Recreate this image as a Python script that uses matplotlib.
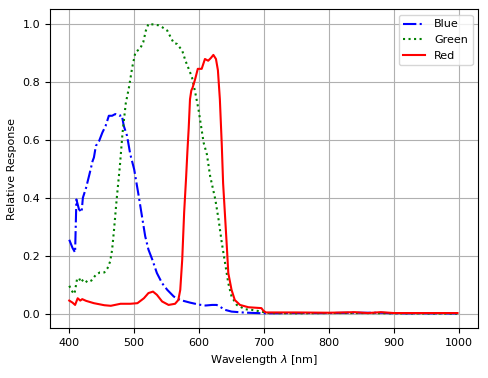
import matplotlib
matplotlib.use("Agg")
import matplotlib.pyplot as plt

blue_wl = [400, 405, 409, 411, 415, 419, 421, 426, 431, 436, 438, 441, 446, 451, 456,
           461, 466, 471, 477, 481, 484, 489, 494, 500, 507, 512, 517, 522, 528, 535,
           543, 551, 561, 571, 586, 600, 610, 620, 627, 632, 640, 650, 670, 700, 750,
           800, 840, 880, 900, 950, 998]
blue_val = [0.255, 0.227, 0.211, 0.394, 0.36, 0.35, 0.40, 0.435, 0.48, 0.527, 0.539,
            0.579, 0.596, 0.625, 0.648, 0.683, 0.683, 0.689, 0.683, 0.685, 0.648, 0.614,
            0.55, 0.498, 0.406, 0.336, 0.267, 0.221, 0.186, 0.14, 0.105, 0.082, 0.059,
            0.047, 0.038, 0.031, 0.028, 0.030, 0.030, 0.024, 0.013, 0.007, 0.0035, 0.001,
            0.002, 0.002, 0.003, 0.003, 0.001, 0.001, 0.0005]

green_wl = [400, 405, 408, 412, 415, 418, 422, 428, 434, 441, 447, 454, 459, 463, 466,
            469, 473, 478, 482, 487, 492, 497, 502, 509, 514, 518, 522, 530, 538, 543,
            551, 556, 561, 566, 574, 579, 584, 589, 594, 599, 603, 607, 612, 617, 625,
            630, 635, 640, 645, 650, 658, 671, 681, 696, 705, 750, 800, 850, 900, 998]
green_val = [0.096, 0.075, 0.068, 0.119, 0.123, 0.108, 0.119, 0.108, 0.114, 0.134,
             0.142, 0.142, 0.157, 0.18, 0.22, 0.29, 0.394, 0.51, 0.622, 0.725, 0.781,
             0.85, 0.903, 0.914, 0.937, 0.977, 1.0, 0.998, 0.995, 0.989, 0.977, 0.955,
             0.934, 0.931, 0.908, 0.873, 0.845, 0.816, 0.764, 0.706, 0.648, 0.59, 0.55,
             0.475, 0.394, 0.325, 0.244, 0.175, 0.105, 0.059, 0.03, 0.015, 0.013, 0.007,
             0.002, 0.001, 0.002, 0.002, 0.001, 0.0]

red_wl = [400, 405, 409, 413, 417, 420, 426, 438, 454, 464, 479, 494, 505, 515, 522,
          529, 535, 543, 553, 563, 568, 571, 574, 577, 580, 582, 584, 586, 588, 590,
          594, 598, 604, 609, 614, 618, 622, 626, 629, 632, 635, 637, 640, 643, 645,
          650, 655, 663, 676, 696, 699, 703, 750, 800, 820, 840, 860, 880, 900, 950, 998]
red_val = [0.045, 0.038, 0.03, 0.053, 0.045, 0.05, 0.044, 0.036, 0.029, 0.027, 0.034,
           0.034, 0.036, 0.053, 0.071, 0.076, 0.065, 0.042, 0.03, 0.034, 0.047, 0.082,
           0.186, 0.35, 0.47, 0.56, 0.64, 0.74, 0.77, 0.78, 0.81, 0.845, 0.845, 0.879,
           0.873, 0.882, 0.893, 0.879, 0.84, 0.74, 0.58, 0.45, 0.336, 0.221, 0.14, 0.082,
           0.047, 0.03, 0.022, 0.019, 0.01, 0.004, 0.004, 0.003, 0.004, 0.005, 0.002,
           0.005, 0.002, 0.002, 0.002]

plt.rcParams['font.size'] = 8
fig = plt.figure(figsize=(4.88, 3.78), dpi=100)
ax = fig.add_axes([0.102, 0.132, 0.878, 0.843])
ax.plot(blue_wl, blue_val, '-.', color='b', lw=1.5, label='Blue')
ax.plot(green_wl, green_val, ':', color='g', lw=1.5, label='Green')
ax.plot(red_wl, red_val, '-', color='r', lw=1.5, label='Red')
ax.set_xticks([400, 500, 600, 700, 800, 900, 1000])
ax.set_yticks([0.0, 0.2, 0.4, 0.6, 0.8, 1.0])
ax.set_xlim(370, 1030)
ax.set_ylim(-0.05, 1.05)
ax.grid(True)
ax.set_xlabel(r'Wavelength $\lambda$ [nm]')
ax.set_ylabel('Relative Response')
ax.legend(loc='upper right')
fig.savefig('out.png', dpi=100)
